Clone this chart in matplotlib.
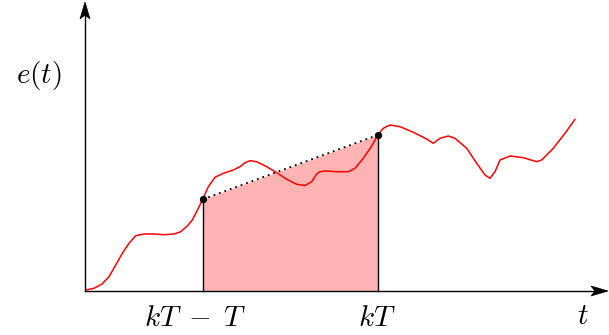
import matplotlib
matplotlib.use("Agg")
import matplotlib.pyplot as plt
from matplotlib.patches import Polygon

plt.rcParams["mathtext.fontset"] = "cm"

# error signal e(t) sampled along the time axis
t_vals = [0.7, 9, 17, 24, 30.7, 37.3, 44, 50.7, 59, 69, 79, 89, 95.7, 102.3,
          107.3, 113.3, 117.7, 123.3, 130, 138.3, 148.3, 155, 160, 165, 171.7,
          181.7, 191.7, 201.7, 211.7, 220, 226.7, 231.7, 235, 240, 251.7, 263.3,
          270, 278.3, 286.7, 292.7, 298.3, 305, 315, 328.3, 341.7, 348.3, 355,
          363.3, 370, 381.7, 391.7, 400, 405, 410, 415, 425, 438.3, 451.7,
          456.7, 468.3, 480, 490]
e_vals = [1, 2.7, 7, 14.3, 26, 37.7, 47.7, 55.3, 57, 57, 56.3, 57, 59.3, 65,
          71, 82.7, 91.7, 104.3, 113.7, 117.7, 121, 124.3, 128.3, 130.3, 129.3,
          124.3, 118.3, 111.7, 106.7, 105.5, 109.3, 117, 119.3, 120, 119.3, 119.3,
          122.7, 132.7, 145, 156, 162.7, 166, 164.3, 158.7, 152, 147.7, 152.7,
          155, 152.7, 142.7, 127.7, 116, 112.7, 119.3, 131, 135, 133.3, 129.3,
          131, 142.7, 157.7, 171.7]

# sampling instants kT-T and kT with their sample values
t_prev, e_prev = 117.7, 91.7
t_curr, e_curr = 292.7, 156

# extent of the drawn coordinate axes
t_max, e_max = 523, 289

fig = plt.figure(figsize=(6.09, 3.35), dpi=100)
ax = fig.add_axes([0, 0, 1, 1])
ax.set_xlim(-85, 524)
ax.set_ylim(-44, 291)
ax.axis("off")

# trapezoidal area between the two samples
ax.fill_between([t_prev, t_curr], [e_prev, e_curr], 0,
                color="#ffb3b3", linewidth=0, zorder=1)
ax.plot([t_prev, t_prev], [0, e_prev], color="black", lw=1.0, zorder=2)
ax.plot([t_curr, t_curr], [0, e_curr], color="black", lw=1.0, zorder=2)
ax.plot([t_prev, t_curr], [e_prev, e_curr], color="black", lw=1.3,
        linestyle=(0, (1, 2.2)), zorder=2)

# signal curve
ax.plot(t_vals, e_vals, color="red", lw=1.1, zorder=3,
        solid_joinstyle="round", solid_capstyle="round")
ax.plot([t_prev, t_curr], [e_prev, e_curr], "o", color="black", ms=4.2, zorder=4)

# coordinate axes with stealth-style arrowheads
head_len, head_half, notch = 17, 5, 4
ax.plot([0, t_max - head_len + notch], [0, 0], color="black", lw=1.0, zorder=5)
ax.plot([0, 0], [0, e_max - head_len + notch], color="black", lw=1.0, zorder=5)
ax.add_patch(Polygon([(t_max, 0), (t_max - head_len, head_half),
                      (t_max - head_len + notch, 0), (t_max - head_len, -head_half)],
                     closed=True, facecolor="black", edgecolor="black", lw=0.5, zorder=6))
ax.add_patch(Polygon([(0, e_max), (head_half, e_max - head_len),
                      (0, e_max - head_len + notch), (-head_half, e_max - head_len)],
                     closed=True, facecolor="black", edgecolor="black", lw=0.5, zorder=6))

# labels
fs = 21
ax.text(-46, 215, r"$e(t)$", fontsize=fs, ha="center", va="center")
ax.text(498, -25, r"$t$", fontsize=fs, ha="center", va="center")
ax.text(t_prev - 8, -27, r"$kT\;-\;T$", fontsize=fs, ha="center", va="center")
ax.text(t_curr - 1, -27, r"$kT$", fontsize=fs, ha="center", va="center")

fig.savefig("out.png", dpi=100)
